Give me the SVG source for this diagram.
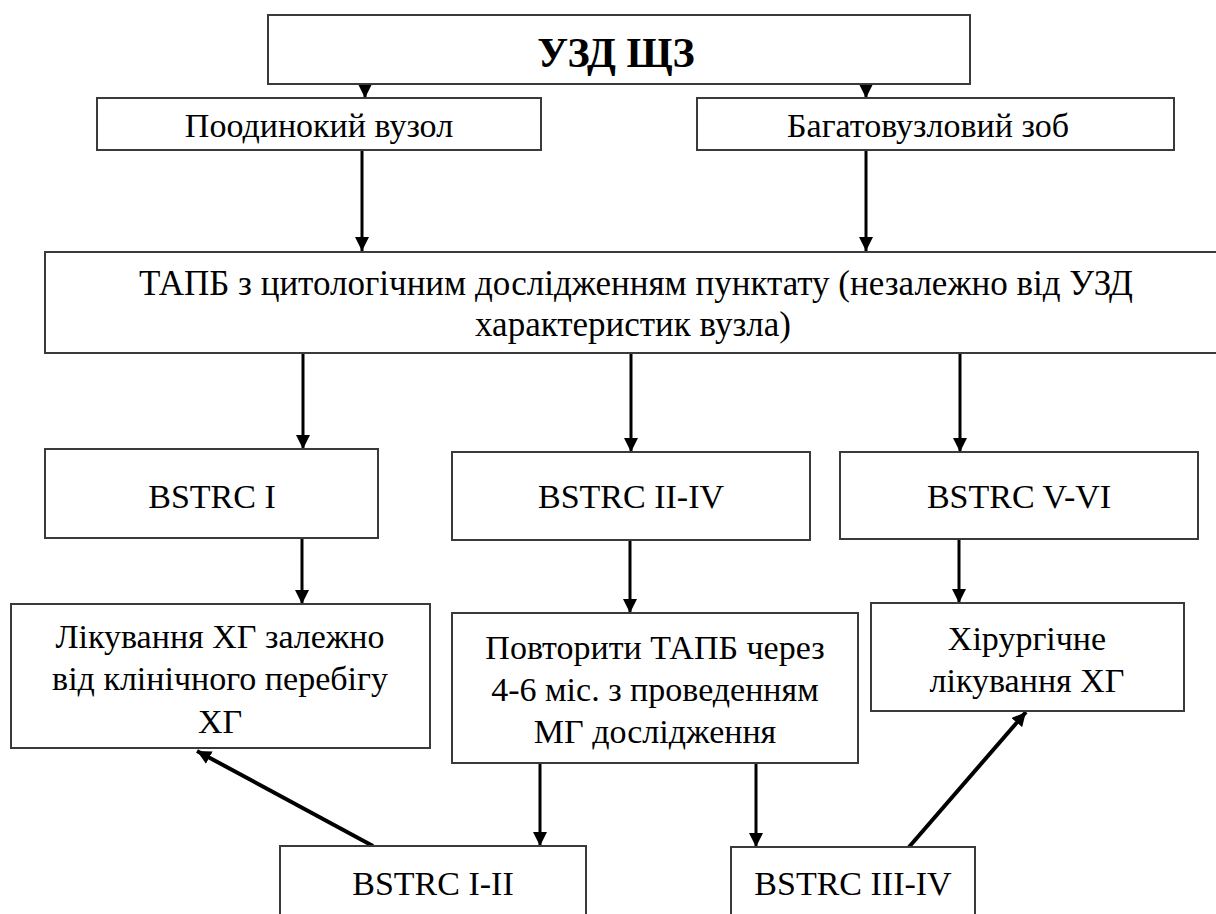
<svg xmlns="http://www.w3.org/2000/svg" width="1216" height="914" viewBox="0 0 1216 914">
<defs>
<style>
.box{fill:#fff;stroke:#3a3a3a;stroke-width:2}
.c{stroke:#000;stroke-width:3;fill:none}
.d{stroke:#000;stroke-width:4;fill:none}
</style>
<marker id="ah" markerUnits="userSpaceOnUse" markerWidth="16" markerHeight="14" refX="14" refY="7" orient="auto">
<path d="M0,0 L14,7 L0,14 Z" fill="#000"/>
</marker>
</defs>
<rect width="1216" height="914" fill="#fff"/>
<g id="connectors">
<line class="c" x1="365" y1="84" x2="365" y2="98" marker-end="url(#ah)"/>
<line class="c" x1="866" y1="84" x2="866" y2="98" marker-end="url(#ah)"/>
<line class="c" x1="362" y1="150" x2="362" y2="251" marker-end="url(#ah)"/>
<line class="c" x1="866" y1="150" x2="866" y2="251" marker-end="url(#ah)"/>
<line class="c" x1="303" y1="353" x2="303" y2="449" marker-end="url(#ah)"/>
<line class="c" x1="631" y1="353" x2="631" y2="452" marker-end="url(#ah)"/>
<line class="c" x1="960" y1="353" x2="960" y2="452" marker-end="url(#ah)"/>
<line class="c" x1="302" y1="538" x2="302" y2="604" marker-end="url(#ah)"/>
<line class="c" x1="630" y1="540" x2="630" y2="613" marker-end="url(#ah)"/>
<line class="c" x1="959" y1="540" x2="959" y2="603" marker-end="url(#ah)"/>
<line class="c" x1="540" y1="763" x2="540" y2="846" marker-end="url(#ah)"/>
<line class="c" x1="756" y1="763" x2="756" y2="847" marker-end="url(#ah)"/>
<line class="d" x1="373" y1="846" x2="197" y2="751" marker-end="url(#ah)"/>
<line class="d" x1="909" y1="847" x2="1026" y2="712" marker-end="url(#ah)"/>
</g>
<g font-family="Liberation Serif, Noto Serif, DejaVu Serif, Times New Roman, serif" font-size="34" text-anchor="middle" fill="#000">
<g id="n-uzd">
<rect class="box" x="268" y="15" width="702" height="69"/>
<text x="616" y="67" font-weight="bold" font-size="42">УЗД ЩЗ</text>
</g>
<g id="n-single">
<rect class="box" x="97" y="98" width="444" height="52"/>
<text x="319" y="137">Поодинокий вузол</text>
</g>
<g id="n-multi">
<rect class="box" x="697" y="98" width="477" height="52"/>
<text x="928" y="137">Багатовузловий зоб</text>
</g>
<g id="n-tapb">
<rect class="box" x="45" y="252" width="1178" height="101"/>
<text x="636" y="295" font-size="35">ТАПБ з цитологічним дослідженням пунктату (незалежно від УЗД</text>
<text x="633" y="336" font-size="35">характеристик вузла)</text>
</g>
<g id="n-b1">
<rect class="box" x="45" y="449" width="333" height="89"/>
<text x="212" y="508">BSTRC I</text>
</g>
<g id="n-b2">
<rect class="box" x="452" y="452" width="358" height="88"/>
<text x="631" y="508">BSTRC II-IV</text>
</g>
<g id="n-b3">
<rect class="box" x="840" y="452" width="358" height="87"/>
<text x="1019" y="508">BSTRC V-VI</text>
</g>
<g id="n-treat">
<rect class="box" x="11" y="604" width="419" height="144"/>
<text x="220" y="648">Лікування ХГ залежно</text>
<text x="220" y="690">від клінічного перебігу</text>
<text x="220" y="733">ХГ</text>
</g>
<g id="n-repeat">
<rect class="box" x="452" y="613" width="406" height="150"/>
<text x="655" y="659">Повторити ТАПБ через</text>
<text x="655" y="701">4-6 міс. з проведенням</text>
<text x="655" y="743">МГ дослідження</text>
</g>
<g id="n-surg">
<rect class="box" x="871" y="603" width="313" height="108"/>
<text x="1027" y="650">Хірургічне</text>
<text x="1027" y="692">лікування ХГ</text>
</g>
<g id="n-b12">
<rect class="box" x="280" y="846" width="306" height="100"/>
<text x="433" y="895">BSTRC I-II</text>
</g>
<g id="n-b34">
<rect class="box" x="731" y="847" width="244" height="100"/>
<text x="853" y="895">BSTRC III-IV</text>
</g>
</g>
</svg>
